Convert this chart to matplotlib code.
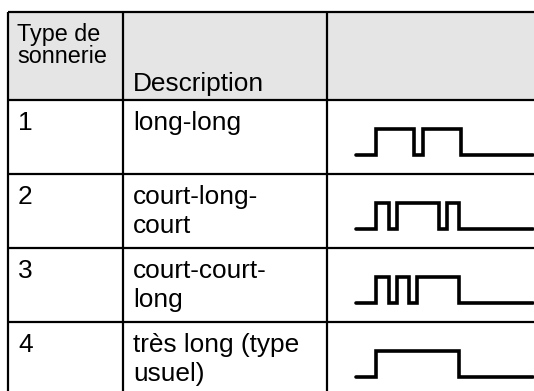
import matplotlib
matplotlib.use("Agg")
import matplotlib.pyplot as plt
import numpy as np

# ---- data ----
header_type = "Type de\nsonnerie"
header_desc = "Description"
ring_types = ["1", "2", "3", "4"]
descriptions = ["long-long", "court-long-\ncourt", "court-court-\nlong", "très long (type\nusuel)"]
# ring cadence: alternating off/on durations (arbitrary time units), starting with off
cadences = [
    [20, 38, 9, 38, 72],
    [20, 13, 8, 42, 8, 12, 74],
    [20, 13, 8, 12, 8, 42, 74],
    [20, 83, 74],
]

# ---- layout ----
W, H = 534, 391
fig = plt.figure(figsize=(W / 100, H / 100), dpi=100)
ax = fig.add_axes([0, 0, 1, 1])
ax.set_xlim(0, W)
ax.set_ylim(H, 0)
ax.axis("off")

col_x = [8, 123, 327, W + 5]
row_y = [12, 100, 174, 248, 322, 396]
lw_tab = 1.6
font = "Liberation Sans"
fs = 18.9

# header background
ax.add_patch(plt.Rectangle((col_x[0], row_y[0]), col_x[-1] - col_x[0], row_y[1] - row_y[0],
                           facecolor="#e5e5e5", edgecolor="none", zorder=0))
# horizontal lines
for y in row_y[:-1]:
    ax.plot([col_x[0], col_x[-1]], [y, y], color="black", lw=lw_tab, solid_capstyle="butt", zorder=2)
# vertical lines
for x in col_x[:-1]:
    ax.plot([x, x], [row_y[0], row_y[-1]], color="black", lw=lw_tab, solid_capstyle="butt", zorder=2)

pad = 10
type_lines = header_type.split("\n")
# header text
ax.text(col_x[0] + pad - 1, row_y[0] + 29, type_lines[0], fontsize=16.8, family=font, va="baseline", ha="left")
ax.text(col_x[0] + pad - 1, row_y[0] + 51, type_lines[1], fontsize=16.8, family=font, va="baseline", ha="left")
ax.text(col_x[1] + pad, row_y[1] - 9, header_desc, fontsize=fs, family=font, va="baseline", ha="left")

# body rows
for i, (rt, desc, cad) in enumerate(zip(ring_types, descriptions, cadences)):
    top = row_y[i + 1]
    ax.text(col_x[0] + pad, top + 30, rt, fontsize=fs, family=font, va="baseline", ha="left")
    for j, line in enumerate(desc.split("\n")):
        ax.text(col_x[1] + pad, top + 30 + 29 * j, line, fontsize=fs, family=font,
                va="baseline", ha="left")
    # waveform
    t = np.concatenate([[0], np.cumsum(cad)])
    levels = [(k % 2) for k in range(len(cad))]
    xs, ys = [], []
    low, high = top + 55, top + 29
    x0 = 356
    for k, lev in enumerate(levels):
        yv = high if lev else low
        xs += [x0 + t[k], x0 + t[k + 1]]
        ys += [yv, yv]
    ax.plot(xs, ys, color="black", lw=2.6, solid_capstyle="round", solid_joinstyle="miter", zorder=3)

fig.savefig("out.png", dpi=100)
